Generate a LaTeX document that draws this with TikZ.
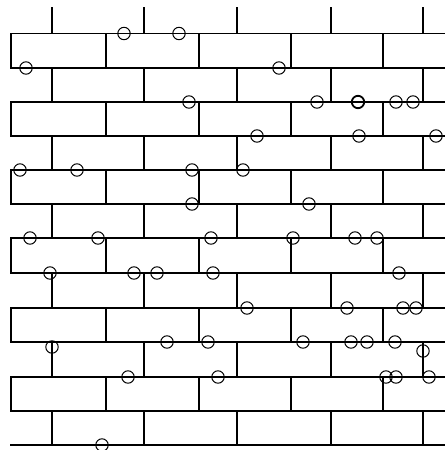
\documentclass[tikz,border=0pt]{standalone}
\begin{document}
\begin{tikzpicture}[x=1pt,y=-1pt,
  grid/.style={line width=1.7pt},
  ring/.style={line width=1pt},
  boldring/.style={line width=1.8pt}]
\useasboundingbox (0,0) rectangle (445,450);
\fill[white] (0,0) rectangle (445,450);
% horizontal courses
\foreach \y in {33.5,68,102,136,170,204,238,273,308,342,377,411,445}
  \draw[grid] (10.2,\y) -- (445,\y);
% top stubs
\foreach \x in {52,144,237,331,423}
  \draw[grid] (\x,7) -- (\x,33.5);
% odd courses
\foreach \a/\b in {33.5/68,102/136,170/204,238/273,308/342,377/411}
  \foreach \x in {11,106,199,291,383}
    \draw[grid] (\x,\a) -- (\x,\b);
% even courses
\foreach \a/\b in {68/102,136/170,204/238,273/308,342/377,411/445}
  \foreach \x in {52,144,237,331,423}
    \draw[grid] (\x,\a) -- (\x,\b);
% circles
\foreach \x/\y in {124/33.5,179/33.5,26/68,279/68,189/102,317/102,396/102,413/102,
  257/136,359/136,436/136,20/170,77/170,192/170,243/170,192/204,309/204,
  30/238,98/238,211/238,293/238,355/238,377/238,
  50/273,134/273,157/273,213/273,399/273,
  247/308,347/308,403/308,416/308,
  52/347,167/342,208/342,303/342,351/342,367/342,395/342,423/351,
  128/377,218/377,386/377,396/377,429/377,102/445}
  \draw[ring] (\x,\y) circle (6.2);
\draw[boldring] (358,102) circle (6.2);
\end{tikzpicture}
\end{document}
